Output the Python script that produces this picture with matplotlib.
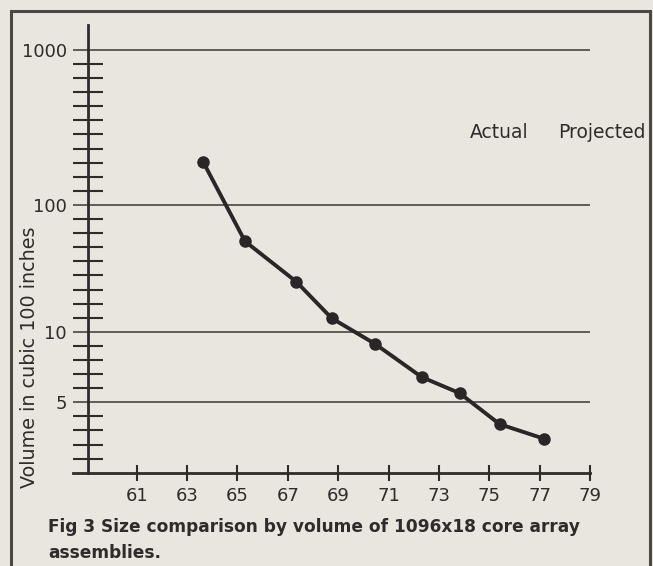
import numpy as np
import matplotlib
matplotlib.use("Agg")
import matplotlib.pyplot as plt
from matplotlib.patches import Rectangle

# Data: core array assembly volume by year
years = [63.65, 65.3, 67.34, 68.74, 70.47, 72.32, 73.82, 75.41, 77.18]
volume = [188, 51.7, 24.8, 12.8, 8.87, 6.4, 5.47, 4.03, 3.49]

x_ticks = [61, 63, 65, 67, 69, 71, 73, 75, 77, 79]
y_major = [5, 10, 100, 1000]
y_major_labels = ["5", "10", "100", "1000"]
legend_words = ["Actual", "Projected"]
y_label = "Volume in cubic 100 inches"
caption = ["Fig 3 Size comparison by volume of 1096x18 core array",
           "assemblies."]

BG = "#e8e6de"
INK = "#2a2628"
TEXT = "#2e2b2b"
GRID = "#4f4c49"

# Hand-ruled value axis: evenly spaced rulings, uneven steps per decade
knot_log = [-1.0, np.log10(2.5), np.log10(5), 1.0, 2.0, 3.0, 4.0]
knot_pos = [-23.2, 0.0, 5.0, 10.0, 19.0, 30.0, 41.0]


def forward(v):
    v = np.clip(np.asarray(v, dtype=float), 1e-3, None)
    return np.interp(np.log10(v), knot_log, knot_pos)


def inverse(p):
    return 10 ** np.interp(np.asarray(p, dtype=float), knot_pos, knot_log)


W, H = 653, 566
fig = plt.figure(figsize=(W / 100, H / 100), dpi=100, facecolor=BG)

# Frame around the figure panel
fig.add_artist(Rectangle((11 / W, -0.05), (650 - 11) / W, 1.05 - 11.5 / H,
                         transform=fig.transFigure, fill=False,
                         ec="#4a4845", lw=2.2))

left_px, right_px, top_px, bot_px = 73, 590, 25, 472.7
ax = fig.add_axes([left_px / W, (H - bot_px) / H,
                   (right_px - left_px) / W, (bot_px - top_px) / H])
ax.set_facecolor("none")

ax.set_yscale("function", functions=(forward, inverse))
ax.set_ylim(2.5, float(inverse(31.77)))
ax.set_xlim(58.47, 79)

for s in ["top", "right"]:
    ax.spines[s].set_visible(False)
ax.spines["left"].set_position(("data", 59.08))
for s in ["left", "bottom"]:
    ax.spines[s].set_color(TEXT)
    ax.spines[s].set_linewidth(2)

# Horizontal rulings at the labelled values
for v in y_major:
    ax.axhline(v, color=GRID, lw=1.25, zorder=1)

ax.set_yticks(y_major)
ax.set_yticklabels(y_major_labels)
minor_pos = [h for h in range(1, 30) if h not in (5, 10, 19)]
ax.set_yticks([float(inverse(h)) for h in minor_pos], minor=True)
ax.yaxis.set_minor_formatter(matplotlib.ticker.NullFormatter())
ax.tick_params(axis="y", which="major", length=0, pad=15.5,
               labelsize=13, labelcolor=TEXT)
ax.tick_params(axis="y", which="minor", direction="inout", length=21.6,
               width=1.5, color=TEXT)

ax.set_xticks(x_ticks)
ax.set_xticklabels([str(t) for t in x_ticks])
ax.tick_params(axis="x", which="major", direction="inout", length=12,
               width=1.5, color=TEXT, pad=4.5, labelsize=13,
               labelcolor=TEXT)
ax.tick_params(axis="x", which="minor", length=0)

ax.plot(years, volume, color=INK, lw=2.8, marker="o", ms=8,
        mfc=INK, mec=INK, zorder=3, solid_capstyle="round")

fig.text(30 / W, 1 - 357 / H, y_label, rotation=90, ha="center",
         va="center", fontsize=13.8, color=TEXT)
fig.text(470 / W, 1 - 133 / H, legend_words[0], ha="left", va="center",
         fontsize=13.5, color=TEXT)
fig.text(558 / W, 1 - 133 / H, legend_words[1], ha="left", va="center",
         fontsize=13.5, color=TEXT)
fig.text(48 / W, 1 - 527 / H, caption[0], ha="left", va="center",
         fontsize=12.25, fontweight="bold", color=TEXT)
fig.text(48 / W, 1 - 553 / H, caption[1], ha="left", va="center",
         fontsize=12.25, fontweight="bold", color=TEXT)

fig.savefig("out.png", dpi=100, facecolor=BG)
